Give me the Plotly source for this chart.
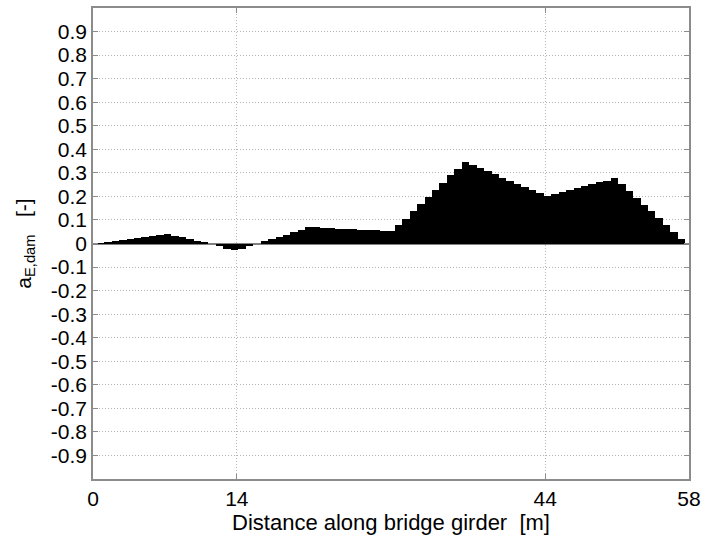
import plotly.graph_objects as go

# Element positions along the girder [m] (nodes every 0.725 m)
element_width = 0.725
n_elements = 80
positions = [round(element_width * i, 4) for i in range(n_elements)]

# Damage indicator a_E,dam
values = [
    0.000, 0.002, 0.006, 0.011, 0.015, 0.020, 0.024, 0.028, 0.033, 0.037,
    0.041, 0.033, 0.026, 0.019, 0.012, 0.005, 0.000, -0.010, -0.022, -0.027,
    -0.022, -0.012, 0.000, 0.009, 0.018, 0.028, 0.038, 0.048, 0.058, 0.068,
    0.068, 0.066, 0.065, 0.063, 0.062, 0.060, 0.058, 0.057, 0.056, 0.054,
    0.052, 0.080, 0.105, 0.136, 0.168, 0.197, 0.228, 0.257, 0.290, 0.317,
    0.345, 0.333, 0.320, 0.307, 0.294, 0.280, 0.266, 0.253, 0.240, 0.227,
    0.213, 0.203, 0.209, 0.217, 0.226, 0.234, 0.243, 0.251, 0.260, 0.267,
    0.280, 0.251, 0.222, 0.193, 0.164, 0.136, 0.107, 0.078, 0.049, 0.020,
]

x_ticks = [0, 14, 44, 58]
x_tick_labels = ["0", "14", "44", "58"]
y_ticks = [round(-0.9 + 0.1 * k, 1) for k in range(19)]
y_tick_labels = ["0" if v == 0 else f"{v:.1f}" for v in y_ticks]

font_family = "Liberation Sans, Arial, sans-serif"
frame_color = "#8c8c8c"
grid_color = "#b4b4b4"
grid_dash = "1px,2px"

fig = go.Figure()
fig.add_trace(go.Bar(
    x=positions,
    y=values,
    width=element_width,
    marker=dict(color="black", line=dict(width=0)),
    showlegend=False,
))

fig.update_layout(
    width=704,
    height=535,
    margin=dict(l=93, r=15, t=8, b=56, autoexpand=False),
    paper_bgcolor="white",
    plot_bgcolor="white",
    bargap=0,
    font=dict(family=font_family, size=21, color="black"),
)

fig.update_xaxes(
    range=[0, 58],
    tickvals=x_ticks,
    ticktext=x_tick_labels,
    ticks="inside",
    ticklen=5,
    tickcolor=frame_color,
    showline=True,
    linecolor=frame_color,
    linewidth=1.5,
    mirror="ticks",
    showgrid=True,
    gridcolor=grid_color,
    griddash=grid_dash,
    gridwidth=1,
    zeroline=False,
    automargin=False,
    title=dict(text="Distance along bridge girder  [m]", standoff=0,
               font=dict(size=22)),
    tickfont=dict(size=21),
    ticklabelstandoff=0,
)

fig.update_yaxes(
    range=[-1, 1],
    tickvals=y_ticks,
    ticktext=y_tick_labels,
    ticks="inside",
    ticklen=5,
    tickcolor=frame_color,
    showline=True,
    linecolor=frame_color,
    linewidth=1.5,
    mirror="ticks",
    showgrid=True,
    gridcolor=grid_color,
    griddash=grid_dash,
    gridwidth=1,
    zeroline=True,
    zerolinecolor="#808080",
    zerolinewidth=1.5,
    automargin=False,
    title=dict(text="a<sub>E,dam</sub>   [-]", standoff=14, font=dict(size=21)),
    tickfont=dict(size=21),
    ticklabelstandoff=0,
)

fig.write_html(
    "out.html",
    config={"displayModeBar": False},
    post_script="document.body.style.margin='0';document.body.style.padding='0';",
)
